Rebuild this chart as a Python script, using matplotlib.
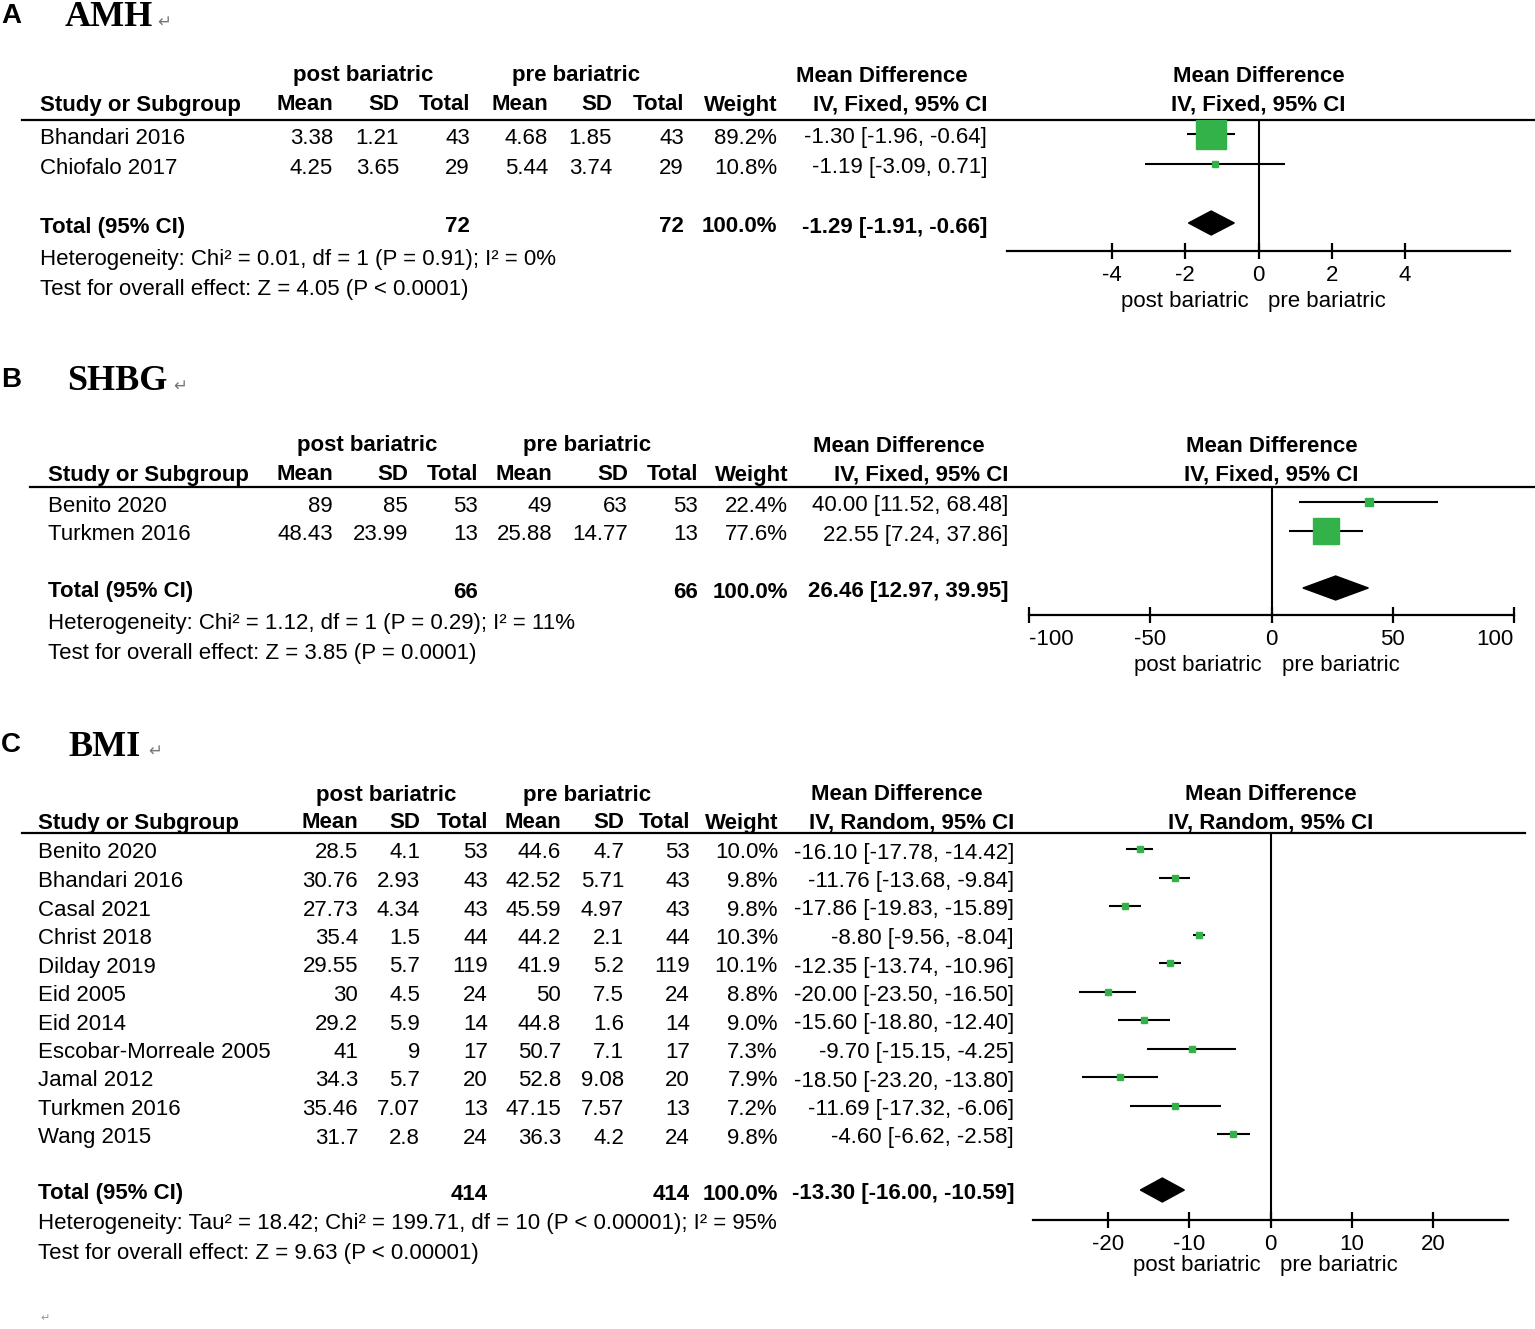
import matplotlib
matplotlib.use('Agg')
import matplotlib.pyplot as plt
from matplotlib.patches import Polygon

plt.rcParams['font.family'] = ['Liberation Sans', 'DejaVu Sans']

W, H = 1535, 1329

# ---- A: AMH ----
amh_studies = ['Bhandari 2016', 'Chiofalo 2017']
amh_post_mean = [3.38, 4.25]
amh_post_sd = [1.21, 3.65]
amh_post_n = [43, 29]
amh_pre_mean = [4.68, 5.44]
amh_pre_sd = [1.85, 3.74]
amh_pre_n = [43, 29]
amh_weight = [89.2, 10.8]
amh_md = [-1.30, -1.19]
amh_lo = [-1.96, -3.09]
amh_hi = [-0.64, 0.71]
amh_total = [-1.29, -1.91, -0.66]
amh_total_n = [72, 72]
amh_het = 'Heterogeneity: Chi² = 0.01, df = 1 (P = 0.91); I² = 0%'
amh_test = 'Test for overall effect: Z = 4.05 (P < 0.0001)'
amh_ticks = [-4, -2, 0, 2, 4]

# ---- B: SHBG ----
shbg_studies = ['Benito 2020', 'Turkmen 2016']
shbg_post_mean = [89, 48.43]
shbg_post_sd = [85, 23.99]
shbg_post_n = [53, 13]
shbg_pre_mean = [49, 25.88]
shbg_pre_sd = [63, 14.77]
shbg_pre_n = [53, 13]
shbg_weight = [22.4, 77.6]
shbg_md = [40.00, 22.55]
shbg_lo = [11.52, 7.24]
shbg_hi = [68.48, 37.86]
shbg_total = [26.46, 12.97, 39.95]
shbg_total_n = [66, 66]
shbg_het = 'Heterogeneity: Chi² = 1.12, df = 1 (P = 0.29); I² = 11%'
shbg_test = 'Test for overall effect: Z = 3.85 (P = 0.0001)'
shbg_ticks = [-100, -50, 0, 50, 100]

# ---- C: BMI ----
bmi_studies = ['Benito 2020', 'Bhandari 2016', 'Casal 2021', 'Christ 2018',
               'Dilday 2019', 'Eid 2005', 'Eid 2014', 'Escobar-Morreale 2005',
               'Jamal 2012', 'Turkmen 2016', 'Wang 2015']
bmi_post_mean = [28.5, 30.76, 27.73, 35.4, 29.55, 30, 29.2, 41, 34.3, 35.46, 31.7]
bmi_post_sd = [4.1, 2.93, 4.34, 1.5, 5.7, 4.5, 5.9, 9, 5.7, 7.07, 2.8]
bmi_post_n = [53, 43, 43, 44, 119, 24, 14, 17, 20, 13, 24]
bmi_pre_mean = [44.6, 42.52, 45.59, 44.2, 41.9, 50, 44.8, 50.7, 52.8, 47.15, 36.3]
bmi_pre_sd = [4.7, 5.71, 4.97, 2.1, 5.2, 7.5, 1.6, 7.1, 9.08, 7.57, 4.2]
bmi_pre_n = [53, 43, 43, 44, 119, 24, 14, 17, 20, 13, 24]
bmi_weight = [10.0, 9.8, 9.8, 10.3, 10.1, 8.8, 9.0, 7.3, 7.9, 7.2, 9.8]
bmi_md = [-16.10, -11.76, -17.86, -8.80, -12.35, -20.00, -15.60, -9.70, -18.50, -11.69, -4.60]
bmi_lo = [-17.78, -13.68, -19.83, -9.56, -13.74, -23.50, -18.80, -15.15, -23.20, -17.32, -6.62]
bmi_hi = [-14.42, -9.84, -15.89, -8.04, -10.96, -16.50, -12.40, -4.25, -13.80, -6.06, -2.58]
bmi_total = [-13.30, -16.00, -10.59]
bmi_total_n = [414, 414]
bmi_het = 'Heterogeneity: Tau² = 18.42; Chi² = 199.71, df = 10 (P < 0.00001); I² = 95%'
bmi_test = 'Test for overall effect: Z = 9.63 (P < 0.00001)'
bmi_ticks = [-20, -10, 0, 10, 20]

GREEN = '#33b24a'
FS = 16

fig = plt.figure(figsize=(W / 100, H / 100), dpi=100)
bg = fig.add_axes([0, 0, 1, 1])
bg.set_xlim(0, W)
bg.set_ylim(H, 0)
bg.axis('off')


def txt(x, y, s, ha='left', bold=False, size=FS, **kw):
    bg.text(x, y, s, ha=ha, va='center', fontsize=size,
            fontweight='bold' if bold else 'normal', **kw)


def fmt(v):
    return '{:g}'.format(v)


def panel(letter, title, method, studies, pm, psd, pn, qm, qsd, qn, wt,
          md, lo, hi, total, total_n, het, test, ticks, lay):
    # panel letter and title
    txt(1, lay['title_y'], letter, bold=True, size=20)
    bg.text(lay['title_x'], lay['title_y'] + 2, title, ha='left', va='center',
            fontsize=26, fontweight='bold', family=['Liberation Serif'])
    bg.text(lay['title_x'] + lay['title_w'], lay['title_y'] + 6, '↵',
            ha='left', va='center', fontsize=12, color='#777777',
            family=['DejaVu Sans'])

    cols = lay['cols']
    h1, h2 = lay['h1'], lay['h2']
    txt(lay['c_post'], h1, 'post bariatric', ha='center', bold=True)
    txt(lay['c_pre'], h1, 'pre bariatric', ha='center', bold=True)
    txt(lay['c_md'], h1, 'Mean Difference', ha='center', bold=True)
    txt(lay['study_x'], h2, 'Study or Subgroup', bold=True)
    heads = ['Mean', 'SD', 'Total', 'Mean', 'SD', 'Total', 'Weight',
             'IV, %s, 95%% CI' % method]
    for x, s in zip(cols, heads):
        txt(x, h2, s, ha='right', bold=True)
    bg.plot([lay['line_x0'], lay['line_x1']], [lay['line_y']] * 2,
            color='black', lw=1.6)

    # study rows
    ys = [lay['row0'] + i * lay['step'] for i in range(len(studies))]
    for i, y in enumerate(ys):
        txt(lay['study_x'], y, studies[i])
        vals = [fmt(pm[i]), fmt(psd[i]), str(pn[i]), fmt(qm[i]), fmt(qsd[i]),
                str(qn[i]), '%.1f%%' % wt[i],
                '%.2f [%.2f, %.2f]' % (md[i], lo[i], hi[i])]
        for x, s in zip(cols, vals):
            txt(x, y, s, ha='right')

    ty = lay['total_y']
    txt(lay['study_x'], ty, 'Total (95% CI)', bold=True)
    txt(cols[2], ty, str(total_n[0]), ha='right', bold=True)
    txt(cols[5], ty, str(total_n[1]), ha='right', bold=True)
    txt(cols[6], ty, '100.0%', ha='right', bold=True)
    txt(cols[7], ty, '%.2f [%.2f, %.2f]' % tuple(total), ha='right', bold=True)
    txt(lay['study_x'], lay['het_y'], het)
    txt(lay['study_x'], lay['test_y'], test)

    # forest plot
    x0, x1 = lay['fx0'], lay['fx1']
    top, axy = lay['line_y'], lay['axis_y']
    ax = fig.add_axes([x0 / W, 1 - axy / H, (x1 - x0) / W, (axy - top) / H])
    ax.patch.set_alpha(0)
    ax.set_xlim(*lay['xlim'])
    ax.set_ylim(axy, top)
    for s in ['left', 'right', 'top']:
        ax.spines[s].set_visible(False)
    ax.spines['bottom'].set_linewidth(1.6)
    ax.set_yticks([])
    ax.set_xticks(ticks)
    labels = ax.set_xticklabels([str(t) for t in ticks])
    if lay.get('end_align'):
        labels[0].set_ha('left')
        labels[-1].set_ha('right')
    ax.tick_params(axis='x', direction='inout', length=12, width=1.6,
                   labelsize=16, pad=4)
    ax.axvline(0, color='black', lw=1.5)

    off = lay['mark_off']
    for i, y in enumerate(ys):
        ax.plot([lo[i], hi[i]], [y - off] * 2, color='black', lw=1.5,
                solid_capstyle='butt')
        ax.plot(md[i], y - off, marker='s', ms=max(4.8, 0.25 * wt[i]),
                color=GREEN, mec=GREEN)
    dh = 12
    ax.add_patch(Polygon([(total[1], ty - off), (total[0], ty - off - dh),
                          (total[2], ty - off), (total[0], ty - off + dh)],
                         closed=True, color='black'))

    span = lay['xlim'][1] - lay['xlim'][0]
    zx = x0 + (0 - lay['xlim'][0]) / span * (x1 - x0)
    txt(zx, h1, 'Mean Difference', ha='center', bold=True)
    txt(zx, h2, 'IV, %s, 95%% CI' % method, ha='center', bold=True)
    txt(zx - 10, lay['lab_y'], 'post bariatric', ha='right')
    txt(zx + 10, lay['lab_y'], 'pre bariatric', ha='left')


panel('A', 'AMH', 'Fixed', amh_studies, amh_post_mean, amh_post_sd, amh_post_n,
      amh_pre_mean, amh_pre_sd, amh_pre_n, amh_weight, amh_md, amh_lo, amh_hi,
      amh_total, amh_total_n, amh_het, amh_test, amh_ticks,
      dict(title_x=65, title_y=16, title_w=92, h1=76, h2=105,
           study_x=40, cols=[333, 399, 470, 548, 612, 684, 777, 987],
           c_post=363, c_pre=576, c_md=882, line_x0=22, line_x1=1535,
           line_y=120, row0=138, step=30, total_y=227, het_y=259, test_y=289,
           fx0=1007, fx1=1510, xlim=(-6.86, 6.86), axis_y=251, lab_y=302,
           mark_off=4))

panel('B', 'SHBG', 'Fixed', shbg_studies, shbg_post_mean, shbg_post_sd,
      shbg_post_n, shbg_pre_mean, shbg_pre_sd, shbg_pre_n, shbg_weight,
      shbg_md, shbg_lo, shbg_hi, shbg_total, shbg_total_n, shbg_het,
      shbg_test, shbg_ticks,
      dict(title_x=67, title_y=380, title_w=106, h1=446, h2=475,
           study_x=48, cols=[333, 408, 478, 552, 628, 698, 788, 1008],
           c_post=367, c_pre=587, c_md=899, line_x0=30, line_x1=1535,
           line_y=487, row0=506, step=29, total_y=592, het_y=623, test_y=653,
           fx0=1029, fx1=1514, xlim=(-100, 100), axis_y=615, lab_y=665,
           mark_off=4, end_align=True))

panel('C', 'BMI', 'Random', bmi_studies, bmi_post_mean, bmi_post_sd,
      bmi_post_n, bmi_pre_mean, bmi_pre_sd, bmi_pre_n, bmi_weight,
      bmi_md, bmi_lo, bmi_hi, bmi_total, bmi_total_n, bmi_het, bmi_test,
      bmi_ticks,
      dict(title_x=68, title_y=745, title_w=80, h1=795, h2=823,
           study_x=38, cols=[358, 420, 488, 561, 624, 690, 778, 1014],
           c_post=386, c_pre=587, c_md=897, line_x0=22, line_x1=1525,
           line_y=833, row0=853, step=28.5, total_y=1194, het_y=1224,
           test_y=1253, fx0=1033, fx1=1508, xlim=(-29.2, 29.2), axis_y=1220,
           lab_y=1266, mark_off=4))

bg.text(40, 1318, '↵', ha='left', va='center', fontsize=8, color='#999999',
        family=['DejaVu Sans'])

fig.savefig('out.png', dpi=100)
